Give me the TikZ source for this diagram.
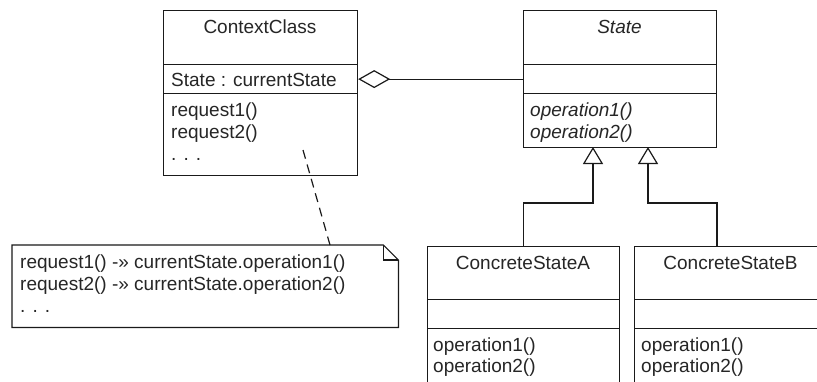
\documentclass[tikz,border=0pt]{standalone}
\usepackage{fontspec}
\setmainfont{Liberation Sans}
\usetikzlibrary{arrows.meta}
\definecolor{linec}{HTML}{1A1A1A}
\definecolor{textc}{HTML}{262626}
\begin{document}
\begin{tikzpicture}[x=1pt,y=-1pt,
  comp/.style={draw=linec, line width=1.2pt, rectangle, inner sep=0pt, anchor=north west},
  txt/.style={inner sep=0pt, text=textc, font=\fontsize{19}{22}\selectfont},
  itxt/.style={txt, font=\fontsize{19}{22}\selectfont\itshape},
  conn/.style={draw=linec, line width=1.2pt},
  dashconn/.style={conn, dash pattern=on 9pt off 6pt}
]
\clip (0,0) rectangle (817,381);
\fill[white] (0,0) rectangle (817,381);

% ContextClass
\node[comp, minimum width=194pt, minimum height=54pt] (ctxT) at (163,10) {};
\node[comp, minimum width=194pt, minimum height=29pt] (ctxA) at (163,64) {};
\node[comp, minimum width=194pt, minimum height=82pt] (ctxO) at (163,93) {};
\node[txt, anchor=base] (ctxName) at (260,33) {ContextClass};
\node[txt, anchor=base west] (ctxAttr) at (171,86) {State : currentState};
\node[txt, anchor=base west] (ctxM1) at (171,116) {request1()};
\node[txt, anchor=base west] (ctxM2) at (171,138) {request2()};
\node[txt, anchor=base west] (ctxM3) at (171,160) {. . .};

% State
\node[comp, minimum width=193pt, minimum height=54pt] (stT) at (523,10) {};
\node[comp, minimum width=193pt, minimum height=29pt] (stA) at (523,64) {};
\node[comp, minimum width=193pt, minimum height=54pt] (stO) at (523,93) {};
\node[itxt, anchor=base] (stName) at (619.5,33) {State};
\node[itxt, anchor=base west] (stM1) at (530,116) {operation1()};
\node[itxt, anchor=base west] (stM2) at (530,138) {operation2()};

% ConcreteStateA
\node[comp, minimum width=192pt, minimum height=53pt] (caT) at (427,246) {};
\node[comp, minimum width=192pt, minimum height=29pt] (caA) at (427,299) {};
\node[comp, minimum width=192pt, minimum height=70pt] (caO) at (427,328) {};
\node[txt, anchor=base] (caName) at (523,269) {ConcreteStateA};
\node[txt, anchor=base west] (caM1) at (433,351) {operation1()};
\node[txt, anchor=base west] (caM2) at (433,372) {operation2()};

% ConcreteStateB
\node[comp, minimum width=193pt, minimum height=53pt] (cbT) at (634,246) {};
\node[comp, minimum width=193pt, minimum height=29pt] (cbA) at (634,299) {};
\node[comp, minimum width=193pt, minimum height=70pt] (cbO) at (634,328) {};
\node[txt, anchor=base] (cbName) at (730.5,269) {ConcreteStateB};
\node[txt, anchor=base west] (cbM1) at (641,351) {operation1()};
\node[txt, anchor=base west] (cbM2) at (641,372) {operation2()};

% Note
\node[inner sep=0pt, minimum width=386pt, minimum height=82pt, anchor=north west] (note) at (12,245) {};
\draw[conn] (note.north west) -- ([xshift=-15pt]note.north east) -- ([yshift=-15pt]note.north east)
  -- (note.south east) -- (note.south west) -- cycle;
\draw[conn] ([xshift=-15pt]note.north east) -- ([xshift=-15pt,yshift=-15pt]note.north east)
  -- ([yshift=-15pt]note.north east);
\node[txt, anchor=base west] (n1) at (20,268) {request1() -» currentState.operation1()};
\node[txt, anchor=base west] (n2) at (20,290) {request2() -» currentState.operation2()};
\node[txt, anchor=base west] (n3) at (20,312) {. . .};

% connectors
\draw[conn, {Diamond[open, length=32pt, width=18pt]}-] (ctxA.east) -- (stA.west);

\coordinate (jogA) at (593,203);
\coordinate (tipA) at (593,147);
\coordinate (jogB) at (648,203);
\coordinate (tipB) at (648,147);
\draw[conn, -{Triangle[open, length=17pt, width=20pt]}] (caT.north) |- (jogA) -- (tipA);
\draw[conn, -{Triangle[open, length=17pt, width=20pt]}] (cbT.north -| 717,0) |- (jogB) -- (tipB);

\coordinate (dashTop) at (303,150);
\coordinate (dashBot) at (330,245);
\draw[dashconn] (dashTop) -- (dashBot);
\end{tikzpicture}
\end{document}
